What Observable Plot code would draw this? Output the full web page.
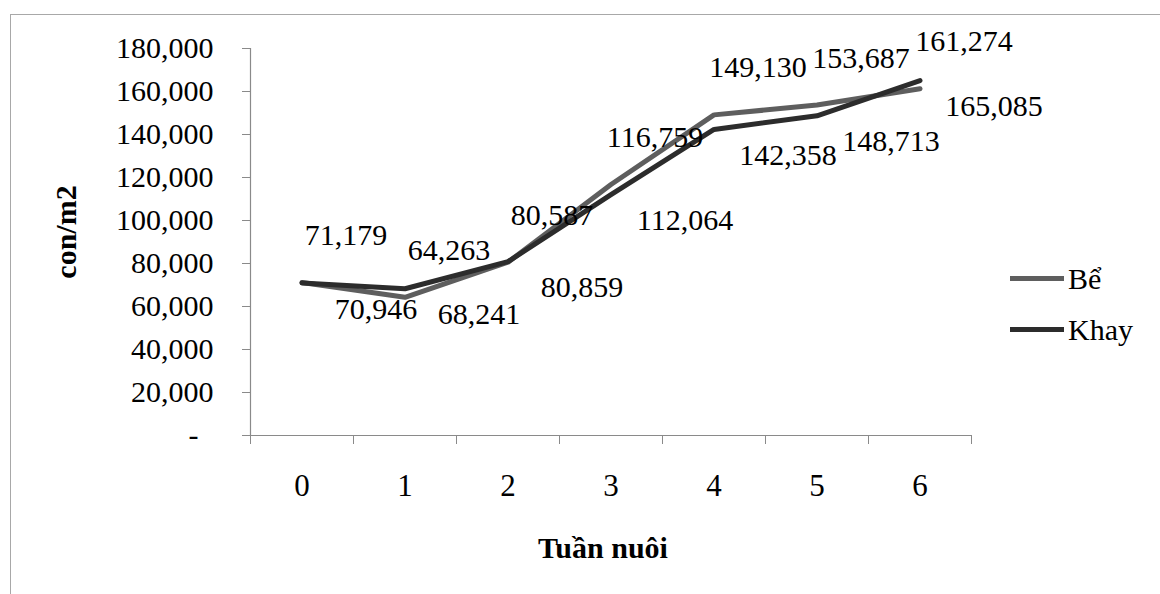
<!DOCTYPE html>
<html>
<head>
<meta charset="utf-8">
<script src="https://cdn.jsdelivr.net/npm/d3@7"></script>
<script src="https://cdn.jsdelivr.net/npm/@observablehq/plot@0.6"></script>
<style>
  html, body { margin: 0; padding: 0; background: #fff; }
  #wrap { position: relative; width: 1160px; height: 594px; overflow: hidden; font-family: "Liberation Serif", serif; color: #000; }
  #frame { position: absolute; left: 10px; top: 14px; width: 1200px; height: 700px; border: 1px solid #a8a8a8; box-sizing: border-box; }
  #chart { position: absolute; left: 0; top: 0; }
  .lbl { position: absolute; white-space: nowrap; font-weight: bold; font-size: 30px; line-height: 30px; }
  #xlabel { left: 453px; width: 300px; text-align: center; top: 533px; }
  #ylabel { left: 66px; top: 232px; transform: translate(-50%, -50%) rotate(-90deg); }
  #legend { position: absolute; left: 1010px; top: 253px; font-size: 30px; }
  .item { display: flex; align-items: center; height: 51px; }
  .sw { width: 54px; height: 5px; margin-right: 4px; }
</style>
</head>
<body>
<div id="wrap">
  <div id="frame"></div>
  <div id="chart"></div>
  <div class="lbl" id="xlabel">Tuần nuôi</div>
  <div class="lbl" id="ylabel">con/m2</div>
  <div id="legend"></div>
</div>
<script>
const weeks = [0, 1, 2, 3, 4, 5, 6];
const seriesNames = ["Bể", "Khay"];
const be = [71179, 64263, 80587, 116759, 149130, 153687, 161274];
const khay = [70946, 68241, 80859, 112064, 142358, 148713, 165085];
const yTicks = [0, 20000, 40000, 60000, 80000, 100000, 120000, 140000, 160000, 180000];
const seriesColors = ["#5e5e5e", "#2c2c2c"];

const data = weeks.flatMap((w, i) => [
  {week: w, value: be[i], series: seriesNames[0]},
  {week: w, value: khay[i], series: seriesNames[1]}
]);
const beData = data.filter(d => d.series === seriesNames[0]);
const khayData = data.filter(d => d.series === seriesNames[1]);
const boundaries = weeks.map(w => w - 0.5).concat([weeks[weeks.length - 1] + 0.5]);
const fmt = d3.format(",");

const chart = Plot.plot({
  width: 1160,
  height: 594,
  marginLeft: 250,
  marginRight: 189,
  marginTop: 48,
  marginBottom: 159,
  style: {fontFamily: "Liberation Serif", background: "transparent", color: "#000"},
  x: {domain: [boundaries[0], boundaries[boundaries.length - 1]]},
  y: {domain: [0, yTicks[yTicks.length - 1]]},
  color: {domain: seriesNames, range: seriesColors},
  marks: [
    Plot.ruleY([0], {stroke: "#8a8a8a", strokeWidth: 1.2}),
    Plot.ruleX([boundaries[0]], {stroke: "#8a8a8a", strokeWidth: 1.2}),
    Plot.axisY({ticks: yTicks, tickSize: 8, tickPadding: 29, fontSize: 30, stroke: "#8a8a8a",
      tickFormat: d => d === 0 ? "-\u00a0\u00a0" : fmt(d), label: null}),
    Plot.axisX({ticks: boundaries, tickSize: 9, stroke: "#8a8a8a", tickFormat: () => "", label: null}),
    Plot.axisX({ticks: weeks, tickSize: 0, tickPadding: 38, fontSize: 31, tickFormat: d => String(d), label: null}),
    Plot.line(data, {x: "week", y: "value", z: "series", stroke: "series", strokeWidth: 5, strokeLinejoin: "round"}),
    Plot.text(beData, {x: "week", y: "value", text: d => fmt(d.value), dx: 44, dy: -47, fontSize: 30, fill: "#000"}),
    Plot.text(khayData, {x: "week", y: "value", text: d => fmt(d.value), dx: 74, dy: 26, fontSize: 30, fill: "#000"})
  ]
});
document.getElementById("chart").appendChild(chart);

const legend = document.getElementById("legend");
seriesNames.forEach((name, i) => {
  const item = document.createElement("div");
  item.className = "item";
  const sw = document.createElement("div");
  sw.className = "sw";
  sw.style.background = seriesColors[i];
  const t = document.createElement("span");
  t.textContent = name;
  item.appendChild(sw);
  item.appendChild(t);
  legend.appendChild(item);
});
</script>
</body>
</html>
